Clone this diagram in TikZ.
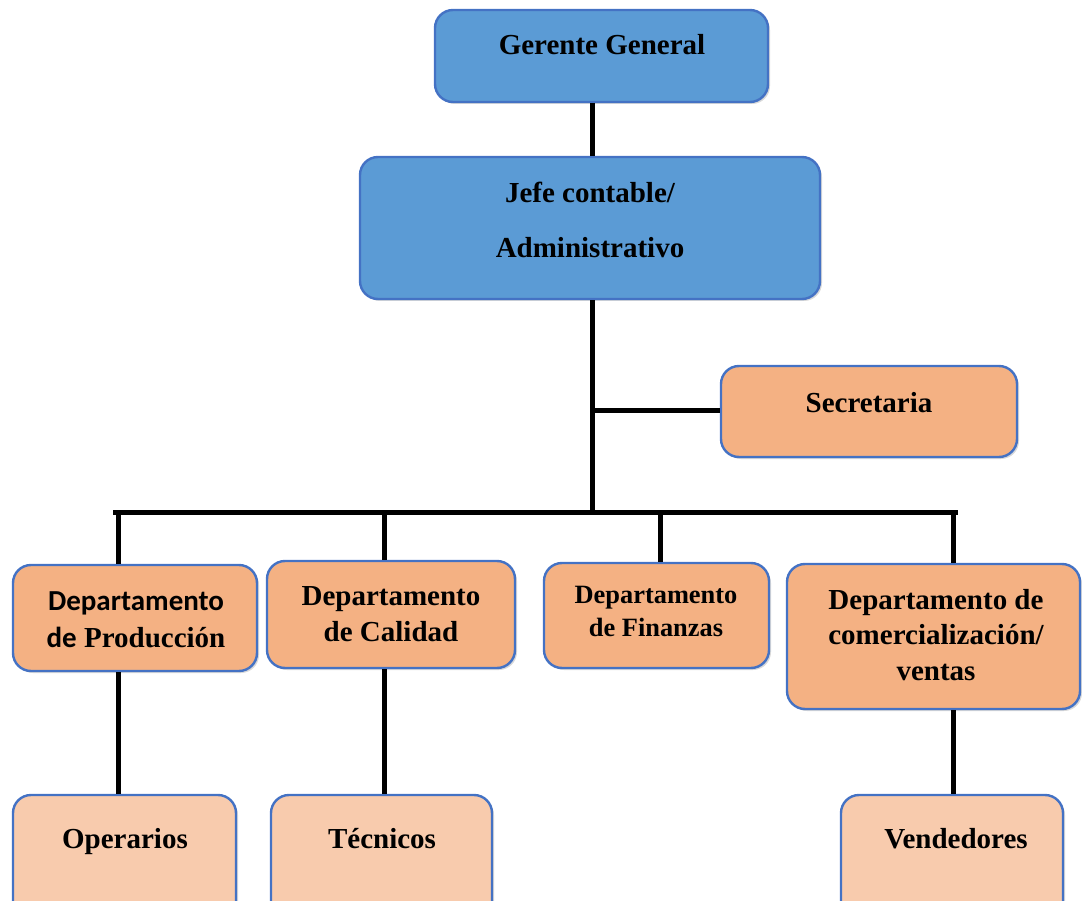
\documentclass[tikz,border=0pt]{standalone}
\usepackage{fontspec}
\setmainfont{Liberation Serif}
\newfontfamily\calibrif{Carlito}
\usetikzlibrary{shadows}
\definecolor{topblue}{HTML}{5B9BD5}
\definecolor{edgeblue}{HTML}{4472C4}
\definecolor{deptorange}{HTML}{F4B183}
\definecolor{staffpeach}{HTML}{F8CBAD}
\tikzset{
  box/.style={draw=edgeblue, line width=2.4pt, rounded corners=18pt, inner sep=0pt,
    drop shadow={shadow xshift=2pt, shadow yshift=-2pt, opacity=0.25, fill=black!60}},
  bluebox/.style={box, fill=topblue},
  deptbox/.style={box, fill=deptorange},
  staffbox/.style={box, fill=staffpeach},
  % base anchor of a multi-line label sits on its last line
  lbl/.style={anchor=base, align=center, inner sep=0pt, font=\bfseries\fontsize{29}{35.5}\selectfont},
  conn/.style={draw=black, line width=5pt}
}
\begin{document}
\begin{tikzpicture}[x=1pt, y=-1pt]
\useasboundingbox (0,0) rectangle (1082,901);
\clip (0,0) rectangle (1082,901);

% connector anchor points
\coordinate (trunk) at (592,0);
\coordinate (sec) at (592,410);
\coordinate (busL) at (118,512);
\coordinate (busR) at (953,512);
\coordinate (d1) at (118,512);
\coordinate (d2) at (384,512);
\coordinate (d3) at (660,512);
\coordinate (d4) at (953,512);
\coordinate (bus) at (592,512);

% boxes
\node[bluebox, minimum width=333pt, minimum height=92pt] (gg) at (601.5,56) {};
\node[bluebox, minimum width=460pt, minimum height=142pt] (jefe) at (590,228) {};
\node[deptbox, minimum width=296pt, minimum height=91pt] (secr) at (869,411.5) {};
\node[deptbox, minimum width=244pt, minimum height=106pt] (prod) at (135,618) {};
\node[deptbox, minimum width=248pt, minimum height=107pt] (cal) at (391,614.5) {};
\node[deptbox, minimum width=225pt, minimum height=105pt] (fin) at (656.5,615.5) {};
\node[deptbox, minimum width=293pt, minimum height=145pt] (com) at (933.5,636.5) {};
\node[staffbox, minimum width=223pt, minimum height=130pt] (oper) at (124.5,860) {};
\node[staffbox, minimum width=221pt, minimum height=130pt] (tec) at (381.5,860) {};
\node[staffbox, minimum width=222pt, minimum height=130pt] (vend) at (952,860) {};

% connectors
\draw[conn] (gg.south -| trunk) -- (jefe.north -| trunk);
\draw[conn] (jefe.south -| trunk) -- (bus);
\draw[conn] (sec) -- (secr.west |- sec);
\draw[conn, line cap=rect] ([xshift=-2.5pt]busL) -- ([xshift=2.5pt]busR);
\draw[conn] (d1) -- (d1 |- prod.north);
\draw[conn] (d2) -- (d2 |- cal.north);
\draw[conn] (d3) -- (d3 |- fin.north);
\draw[conn] (d4) -- (d4 |- com.north);
\draw[conn] (prod.south -| d1) -- (oper.north -| d1);
\draw[conn] (cal.south -| d2) -- (tec.north -| d2);
\draw[conn] (com.south -| d4) -- (vend.north -| d4);

% labels
\node[lbl] (gg-t) at (602,55) {Gerente General};
\node[lbl, font=\bfseries\fontsize{29}{55}\selectfont] (jefe-t) at (590,258) {Jefe contable/\\Administrativo};
\node[lbl] (secr-t) at (869,412) {Secretaria};
\node[lbl, font=\bfseries\fontsize{29}{37}\selectfont] (prod-t) at (136,647) {{\calibrif Departamento}\\{\calibrif de} Producción};
\node[lbl] (cal-t) at (391,641) {Departamento\\de Calidad};
\node[lbl, font=\bfseries\fontsize{26.4}{33}\selectfont] (fin-t) at (656,636) {Departamento\\de Finanzas};
\node[lbl] (com-t) at (936,680) {Departamento de\\comercialización/\\ventas};
\node[lbl] (oper-t) at (125,848) {Operarios};
\node[lbl] (tec-t) at (382,848) {Técnicos};
\node[lbl] (vend-t) at (956,848) {Vendedores};
\end{tikzpicture}
\end{document}
